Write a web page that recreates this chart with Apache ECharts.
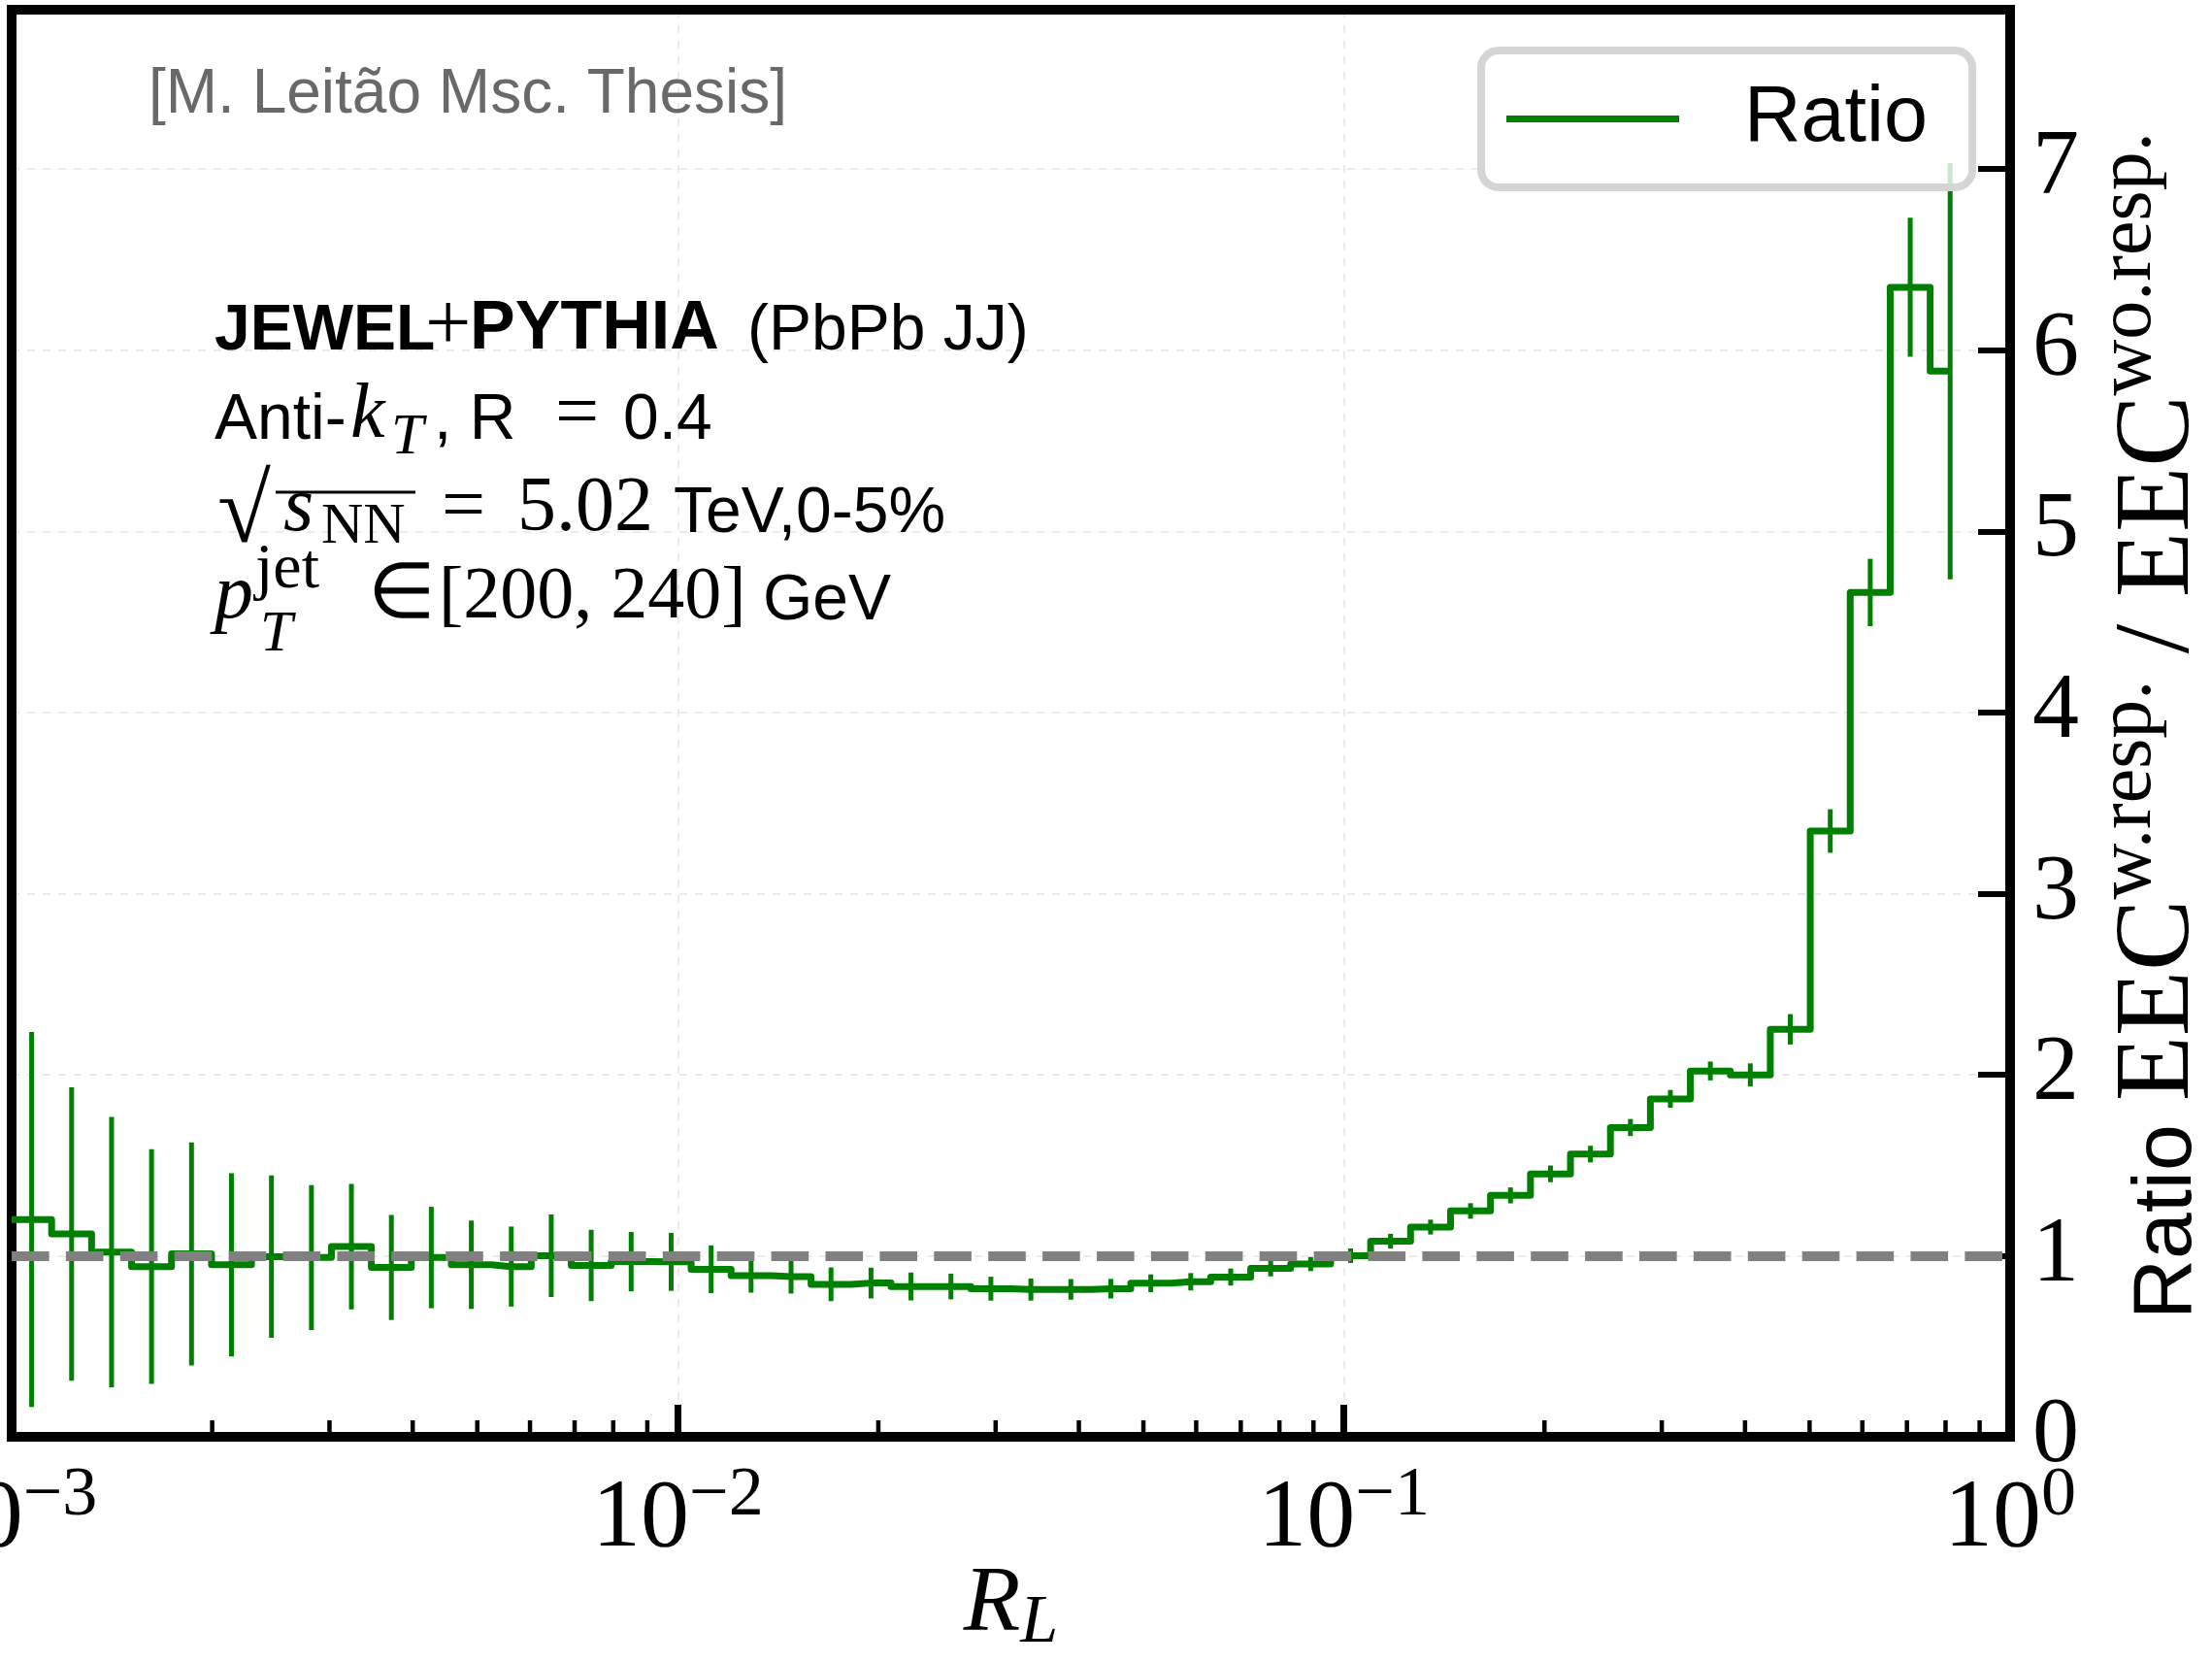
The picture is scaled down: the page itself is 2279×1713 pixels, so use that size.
<!DOCTYPE html>
<html>
<head>
<meta charset="utf-8">
<script src="https://cdn.jsdelivr.net/npm/echarts@6/dist/echarts.min.js"></script>
<style>
  html, body { margin: 0; padding: 0; background: #fff; }
  #chart { width: 2279px; height: 1713px; }
</style>
</head>
<body>
<div id="chart"></div>
<script>
// ---------------- data ----------------
// log10 of the bin centres of R_L (log bins of width 0.06 decade starting at 1e-3)
const logBinCenters = [-2.97, -2.91, -2.85, -2.79, -2.73, -2.67, -2.61, -2.55, -2.49, -2.43,
  -2.37, -2.31, -2.25, -2.19, -2.13, -2.07, -2.01, -1.95, -1.89, -1.83,
  -1.77, -1.71, -1.65, -1.59, -1.53, -1.47, -1.41, -1.35, -1.29, -1.23,
  -1.17, -1.11, -1.05, -0.99, -0.93, -0.87, -0.81, -0.75, -0.69, -0.63,
  -0.57, -0.51, -0.45, -0.39, -0.33, -0.27, -0.21, -0.15, -0.09];
// ratio EEC(w. resp.) / EEC(wo. resp.)
const ratio = [1.20, 1.12, 1.02, 0.94, 1.01, 0.95, 0.995, 0.99, 1.05, 0.935,
  0.99, 0.95, 0.94, 1.00, 0.946, 0.967, 0.966, 0.925, 0.89, 0.885,
  0.842, 0.849, 0.83, 0.83, 0.818, 0.813, 0.814, 0.818, 0.848, 0.856,
  0.882, 0.93, 0.954, 1.00, 1.08, 1.158, 1.247, 1.333, 1.452, 1.561,
  1.708, 1.866, 2.02, 1.998, 2.25, 3.345, 4.662, 6.347, 5.884];
// statistical uncertainty (half length of the error bar)
const ratioErr = [1.035, 0.81, 0.746, 0.648, 0.616, 0.506, 0.448, 0.40, 0.347, 0.29,
  0.28, 0.244, 0.221, 0.228, 0.197, 0.164, 0.16, 0.132, 0.094, 0.094,
  0.093, 0.085, 0.077, 0.071, 0.066, 0.061, 0.057, 0.054, 0.049, 0.048,
  0.047, 0.044, 0.039, 0.04, 0.041, 0.041, 0.043, 0.044, 0.046, 0.046,
  0.047, 0.049, 0.052, 0.064, 0.084, 0.12, 0.186, 0.384, 1.149];
const referenceLevel = 1;
const xRange = [0.001, 1];
const yRange = [0, 7.88];
const yTicks = [0, 1, 2, 3, 4, 5, 6, 7];
const minorDecades = [0.001, 0.01, 0.1];
const minorMultipliers = [2, 3, 4, 5, 6, 7, 8, 9];

// ---------------- styling ----------------
const SANS = '"Liberation Sans", Arial, Helvetica, sans-serif';
const SERIF = '"Liberation Serif", "Times New Roman", serif';
const GREEN = '#008000';

const centers = logBinCenters.map(v => Math.pow(10, v));
const stepData = [[xRange[0], ratio[0]]].concat(centers.map((c, i) => [c, ratio[i]]));
const errData = centers.map((c, i) => [c, ratio[i], ratioErr[i]]);
const minorTicks = [];
minorDecades.forEach(d => minorMultipliers.forEach(m => minorTicks.push([d * m, 0])));

const chart = echarts.init(document.getElementById('chart'), null, { renderer: 'canvas' });

// text measuring for layout of composite labels
const mctx = document.createElement('canvas').getContext('2d');
function textWidth(text, family, size, extra) {
  extra = extra || {};
  mctx.font = (extra.fontStyle || 'normal') + ' ' + (extra.fontWeight || 'normal') + ' ' + size + 'px ' + family;
  return mctx.measureText(text).width;
}
// text piece placed by its baseline
function piece(x, baseline, text, family, size, extra) {
  const st = Object.assign({ text: text, fontFamily: family, fontSize: size, fill: '#000',
    align: 'left', verticalAlign: 'middle' }, extra || {});
  return { type: 'text', x: x, y: baseline - 0.34 * size, z: 10, silent: true, style: st };
}
const IT = { fontStyle: 'italic' };
const BD = { fontWeight: 'bold' };

// y-axis title, rotated, built from pieces read bottom-to-top
function yTitle(startY, baselineX, parts) {
  const els = [];
  let y = startY;
  parts.forEach(p => {
    const bx = baselineX - (p.raise || 0);
    els.push({ type: 'text', x: bx - 0.34 * p.size, y: y, rotation: Math.PI / 2, z: 10, silent: true,
      style: Object.assign({ text: p.text, fontFamily: p.family, fontSize: p.size, fill: '#000',
        align: 'left', verticalAlign: 'middle' }, p.extra || {}) });
    y -= textWidth(p.text, p.family, p.size, p.extra);
  });
  return els;
}

const spine = () => ({ show: true, onZero: false, lineStyle: { color: '#000', width: 10, cap: 'square' } });
const gridSplit = () => ({ show: true, showMinLine: false, showMaxLine: false,
  lineStyle: { color: '#ebebeb', width: 2, type: [8, 8] } });

const option = {
  animation: false,
  backgroundColor: '#ffffff',
  color: [GREEN],
  grid: {
    left: 12, right: 208, top: 10, bottom: 233,
    containLabel: false, outerBoundsMode: 'none', show: false
  },
  legend: {
    data: [{ name: 'Ratio', icon: 'rect' }],
    left: 1526, top: 52,
    itemWidth: 178, itemHeight: 7,
    padding: [30, 46, 30, 26],
    borderColor: '#d5d5d5', borderWidth: 8, borderRadius: 18,
    backgroundColor: 'rgba(255,255,255,0.8)',
    textStyle: { fontFamily: SANS, fontSize: 81, color: '#000', padding: [0, 0, 0, 62] }
  },
  xAxis: [{
    type: 'log', logBase: 10, min: xRange[0], max: xRange[1],
    position: 'bottom',
    name: '{r|R}{l|L}',
    nameLocation: 'middle', nameGap: 126, nameMoveOverlap: false,
    nameTextStyle: {
      rich: {
        r: { fontFamily: SERIF, fontStyle: 'italic', fontSize: 96, lineHeight: 96, color: '#000', verticalAlign: 'middle' },
        l: { fontFamily: SERIF, fontStyle: 'italic', fontSize: 70, lineHeight: 70, color: '#000', verticalAlign: 'middle', padding: [38, 0, 0, 0] }
      }
    },
    axisLine: spine(),
    axisTick: { show: true, inside: true, length: 33, lineStyle: { color: '#000', width: 7 } },
    axisLabel: {
      show: true, margin: 36, showMinLabel: true, showMaxLabel: true, hideOverlap: false,
      formatter: v => {
        const e = Math.round(Math.log10(v));
        return '{b|10}{e|' + String(e).replace('-', '\u2212') + '}';
      },
      rich: {
        b: { fontFamily: SERIF, fontSize: 100, lineHeight: 100, color: '#000', verticalAlign: 'middle' },
        e: { fontFamily: SERIF, fontSize: 72, lineHeight: 72, color: '#000', verticalAlign: 'middle', padding: [0, 0, 50, 0] }
      }
    },
    splitLine: { show: false },
    minorTick: { show: false }
  }, {
    type: 'log', logBase: 10, min: xRange[0], max: xRange[1],
    position: 'top',
    axisLine: spine(), axisTick: { show: false }, axisLabel: { show: false },
    splitLine: gridSplit()
  }],
  yAxis: [{
    type: 'value', position: 'right', min: yRange[0], max: yRange[1], interval: 1,
    axisLine: spine(),
    axisTick: { show: true, inside: true, length: 33, lineStyle: { color: '#000', width: 6 } },
    axisLabel: {
      margin: 23, fontFamily: SERIF, fontSize: 96, color: '#000',
      formatter: v => (yTicks.indexOf(v) >= 0 ? String(v) : '')
    },
    splitLine: { show: false }
  }, {
    type: 'value', position: 'left', min: yRange[0], max: yRange[1], interval: 1,
    axisLine: spine(), axisTick: { show: false }, axisLabel: { show: false },
    splitLine: gridSplit()
  }],
  series: [
    {
      name: 'Ratio', type: 'line', step: 'middle', data: stepData,
      xAxisIndex: 0, yAxisIndex: 0,
      showSymbol: false, symbol: 'none', z: 4,
      lineStyle: { color: GREEN, width: 7, join: 'round' },
      itemStyle: { color: GREEN },
      markLine: {
        silent: true, symbol: ['none', 'none'], z: 6,
        label: { show: false },
        lineStyle: { color: '#808080', width: 10, type: [38.6, 17.3] },
        data: [{ yAxis: referenceLevel }]
      }
    },
    {
      name: 'err', type: 'custom', data: errData, z: 3, silent: true,
      xAxisIndex: 0, yAxisIndex: 0,
      encode: { x: 0, y: 1 },
      renderItem: (params, api) => {
        const x = api.value(0), y = api.value(1), e = api.value(2);
        const p1 = api.coord([x, y - e]);
        const p2 = api.coord([x, y + e]);
        return { type: 'line', shape: { x1: p1[0], y1: p1[1], x2: p2[0], y2: p2[1] },
                 style: { stroke: GREEN, lineWidth: 5, lineCap: 'butt' } };
      }
    },
    {
      name: 'minorTicks', type: 'custom', data: minorTicks, z: 7, silent: true,
      xAxisIndex: 0, yAxisIndex: 0,
      encode: { x: 0, y: 1 },
      renderItem: (params, api) => {
        const p = api.coord([api.value(0), api.value(1)]);
        return { type: 'line', shape: { x1: p[0], y1: p[1], x2: p[0], y2: p[1] - 17 },
                 style: { stroke: '#000', lineWidth: 4.5 } };
      }
    }
  ],
  graphic: [
    piece(153, 120, '[M. Leitão Msc. Thesis]', SANS, 64, { fill: '#696969' }),
    // line 1
    piece(221, 364, 'JEWEL', SANS, 66, BD),
    piece(438, 366, '+', SERIF, 84),
    piece(484, 364, 'PYTHIA', SANS, 70, BD),
    piece(770, 364, '(PbPb JJ)', SANS, 66),
    // line 2
    piece(221, 456, 'Anti-', SANS, 66),
    piece(361, 456, 'k', SERIF, 80, IT),
    piece(403, 472, 'T', SERIF, 60, IT),
    piece(447, 456, ', R', SANS, 66),
    piece(572, 456, '=', SERIF, 80),
    piece(642, 456, '0.4', SANS, 66),
    // line 3
    piece(224, 566, '\u221A', SERIF, 100),
    piece(292, 552, 's', SERIF, 80, IT),
    piece(331, 564, 'NN', SERIF, 60),
    { type: 'line', z: 10, silent: true, shape: { x1: 284, y1: 507, x2: 428, y2: 507 }, style: { stroke: '#000', lineWidth: 3 } },
    piece(455, 552, '=', SERIF, 80),
    piece(533, 552, '5.02', SERIF, 80),
    piece(694, 552, 'TeV,0-5%', SANS, 66),
    // line 4
    piece(221, 642, 'p', SERIF, 80, IT),
    piece(263, 610, 'jet', SERIF, 66),
    piece(268, 675, 'T', SERIF, 60, IT),
    piece(379, 642, '\u2208', SERIF, 80),
    piece(452, 642, '[200, 240]', SERIF, 76),
    piece(786, 642, 'GeV', SANS, 66)
  ].concat(yTitle(1359, 2263, [
    { text: 'Ratio ', family: SANS, size: 86 },
    { text: 'EEC', family: SERIF, size: 110 },
    { text: 'w.resp.', family: SERIF, size: 80, raise: 42 },
    { text: ' / ', family: SERIF, size: 110 },
    { text: 'EEC', family: SERIF, size: 110 },
    { text: 'wo.resp.', family: SERIF, size: 80, raise: 42 }
  ]))
};
chart.setOption(option);
</script>
</body>
</html>
